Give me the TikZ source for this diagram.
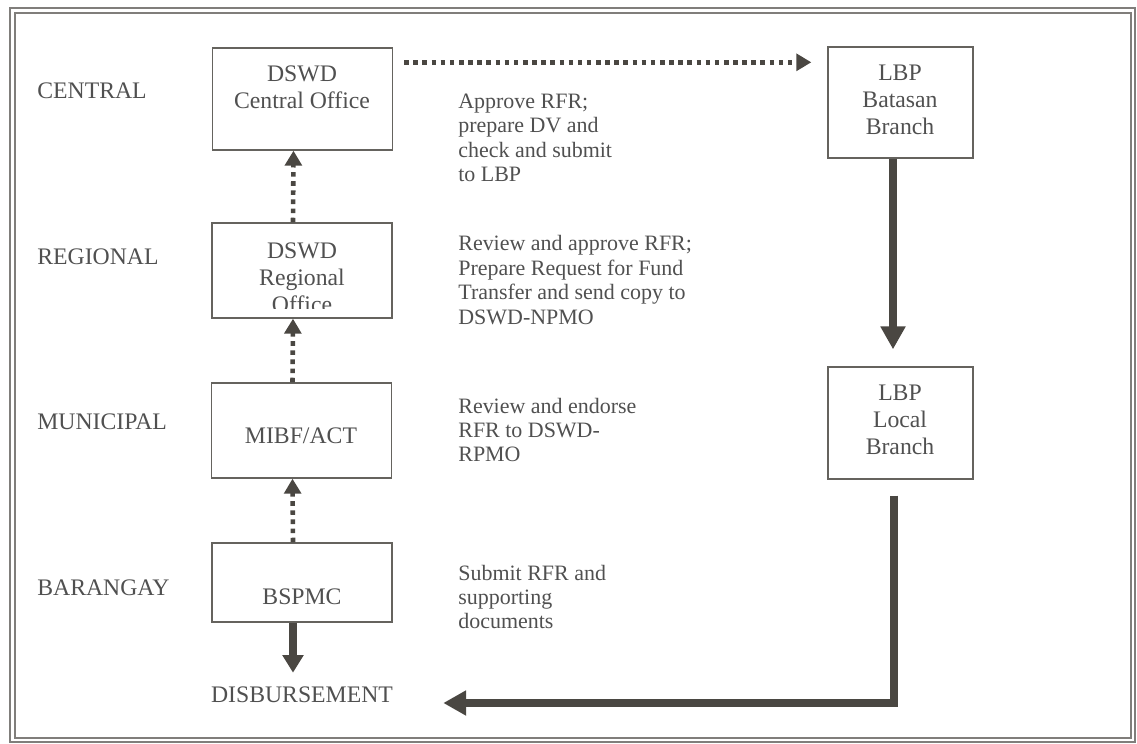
\documentclass[tikz,border=0pt]{standalone}
\usepackage{fontspec}
\setmainfont{Liberation Serif}
\usetikzlibrary{arrows.meta}
\definecolor{ink}{HTML}{4A4742}
\definecolor{txt}{HTML}{505050}
\tikzset{
  box/.style={draw=ink!85, line width=0.8pt, minimum width=3.6cm},
  level/.style={anchor=west, inner sep=0pt, text=txt, font=\fontsize{13.5}{15}\selectfont},
  boxtext/.style={inner sep=0pt, align=center, text=txt, font=\fontsize{13.5}{15.3}\selectfont},
  note/.style={anchor=west, inner sep=0pt, align=left, text=txt, font=\fontsize{12.5}{13.9}\selectfont},
  dotarrow/.style={draw=ink, line width=2.6pt, dash pattern=on 2.6pt off 2.6pt, -{Triangle[width=9.5pt,length=8.5pt]}},
  fatarrow/.style={draw=ink, line width=4pt, -{Triangle[width=13.5pt,length=13pt]}},
  smallhead/.style={-{Triangle[width=11.5pt,length=10pt]}},
}
\begin{document}
\begin{tikzpicture}[x=0.02cm, y=-0.02cm]
  \useasboundingbox (0,0) rectangle (1137,744);
  % frame
  \draw[ink!70, line width=0.8pt] (10,8) rectangle (1135,742);
  \draw[ink!70, line width=0.6pt] (15,13) rectangle (1131,738);

  % levels
  \node[level] (lcen) at (37,91) {CENTRAL};
  \node[level] (lreg) at (37,257) {REGIONAL};
  \node[level] (lmun) at (37,422) {MUNICIPAL};
  \node[level] (lbar) at (37,588) {BARANGAY};

  % left column
  \node[box, minimum height=2.04cm] (cent) at (302.5,99) {};
  \node[boxtext] (centtxt) at (302,87) {DSWD\\Central Office};
  \node[box, minimum height=1.9cm] (reg) at (302,270.5) {};
  \begin{scope}
    \clip (212,223) rectangle (392,308);
    \node[boxtext] (regtxt) at (302,278) {DSWD\\Regional\\Office};
  \end{scope}
  \node[box, minimum height=1.9cm] (mun) at (301.5,430.5) {};
  \node[boxtext] (muntxt) at (301,436) {MIBF/ACT};
  \node[box, minimum height=1.58cm] (bsp) at (302,582.5) {};
  \node[boxtext] (bsptxt) at (302,597) {BSPMC};
  \node[boxtext] (disb) at (302,695) {DISBURSEMENT};

  % right column
  \node[box, minimum width=2.9cm, minimum height=2.22cm] (bat) at (900.5,102.5) {};
  \node[boxtext] (battxt) at (900,100) {LBP\\Batasan\\Branch};
  \node[box, minimum width=2.9cm, minimum height=2.24cm] (loc) at (900.5,423) {};
  \node[boxtext] (loctxt) at (900,420) {LBP\\Local\\Branch};

  % notes
  \node[note] (napp) at (458,138) {Approve RFR;\\prepare DV and\\check and submit\\to LBP};
  \node[note] (nrev) at (458,280) {Review and approve RFR;\\Prepare Request for Fund\\Transfer and send copy to\\DSWD-NPMO};
  \node[note] (nend) at (458,430) {Review and endorse\\RFR to DSWD-\\RPMO};
  \node[note] (nsub) at (458,597) {Submit RFR and\\supporting\\documents};

  % flow
  \draw[dotarrow] ([xshift=-0.18cm]bsp.north) -- ([xshift=-0.18cm]mun.south);
  \draw[dotarrow] ([xshift=-0.18cm]mun.north) -- ([xshift=-0.18cm]reg.south);
  \draw[dotarrow] ([xshift=-0.18cm]reg.north) -- ([xshift=-0.18cm]cent.south);
  \coordinate (h0) at ([shift={(0.22cm,-0.3cm)}]cent.north east);
  \coordinate (h1) at ([xshift=-0.32cm]bat.west);
  \draw[dotarrow] (h0) -- (h0 -| h1);
  \draw[fatarrow] ([xshift=-0.15cm]bat.south) -- ([shift={(-0.15cm,0.34cm)}]loc.north);
  \coordinate (d0) at ([shift={(-0.13cm,-0.32cm)}]loc.south);
  \coordinate (d1) at ([shift={(1cm,-0.16cm)}]disb.east);
  \draw[fatarrow] (d0) |- (d1);
  \draw[fatarrow, smallhead] ([xshift=-0.18cm]bsp.south) -- ([shift={(-0.18cm,0.28cm)}]disb.north);
\end{tikzpicture}
\end{document}
